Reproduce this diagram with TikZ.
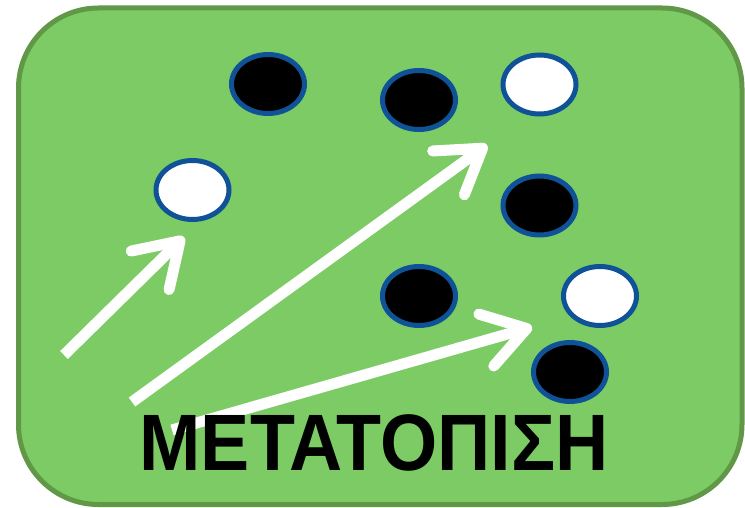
\documentclass[tikz,border=0pt]{standalone}
\usepackage{fontspec}
\setmainfont{Liberation Sans}
\usepackage{graphicx}
\usepackage{tikz}
\usetikzlibrary{arrows.meta}
\usetikzlibrary{positioning, shapes.geometric}

\definecolor{boardgreen}{RGB}{125,203,100}
\definecolor{boardedge}{RGB}{96,152,72}
\definecolor{ringblue}{RGB}{15,82,152}

\tikzset{
  dot/.style={ellipse, draw=ringblue, line width=5pt, inner sep=0pt,
    minimum width=73pt, minimum height=59pt},
  blackdot/.style={dot, fill=black},
  whitedot/.style={dot, fill=white},
  move/.style={draw=white, line width=11pt,
    -{Straight Barb[length=42pt, width=54pt, round]}}
}

\begin{document}
\begin{tikzpicture}[x=1pt, y=-1pt]
\useasboundingbox (0,0) rectangle (745,508);
\fill[white] (0,0) rectangle (745,508);

% board
\draw[boardedge, fill=boardgreen, line width=5pt, rounded corners=80pt]
  (18.5,8) rectangle (742,504.5);

% counters
\node[blackdot] (b1) at (268,84) {};
\node[blackdot] (b2) at (419,100) {};
\node[whitedot] (w1) at (539.5,84.5) {};
\node[whitedot] (w2) at (192.5,190) {};
\node[blackdot] (b3) at (539.5,205.5) {};
\node[blackdot] (b4) at (419,296) {};
\node[whitedot] (w3) at (600,296) {};
\node[blackdot] (b5) at (570,372) {};

% arrows
\coordinate (tailA) at (64,355);
\coordinate (tipA) at (184,237);
\coordinate (tailB) at (132,402);
\coordinate (tipB) at (487,145);
\coordinate (tailC) at (172,430);
\coordinate (tipC) at (532,327);

\draw[move] (tailA) -- (tipA);
\draw[move] (tailB) -- (tipB);
\draw[move] (tailC) -- (tipC);

\node[anchor=base, inner sep=0pt, font=\fontsize{80}{80}\selectfont\bfseries]
  (title) at (374,470) {\scalebox{0.92}[1]{ΜΕΤΑΤΟΠΙΣΗ}};
\end{tikzpicture}
\end{document}
